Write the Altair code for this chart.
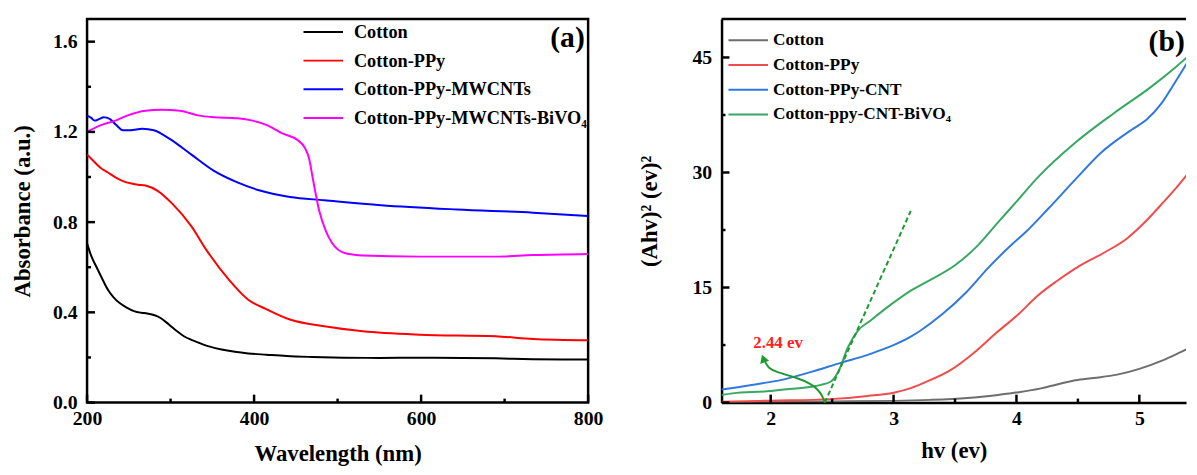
import altair as alt
import pandas as pd

FONT = "Liberation Serif"

# ---------------- Panel (a): UV-vis absorbance ----------------
series_a = ["Cotton", "Cotton-PPy", "Cotton-PPy-MWCNTs", "Cotton-PPy-MWCNTs-BiVO₄"]
colors_a = ["#000000", "#FF0000", "#0000FF", "#FF00FF"]

wl_cotton = [200, 205, 211, 218, 225, 232, 239, 248, 257, 265, 272, 280, 288, 298, 307, 316, 325, 334,
             347, 361, 377, 393, 415, 439, 470, 507, 550, 598, 650, 689, 734, 770, 800]
abs_cotton = [0.706, 0.65, 0.603, 0.55, 0.50, 0.465, 0.441, 0.42, 0.404, 0.398, 0.395, 0.388, 0.375, 0.346,
              0.318, 0.294, 0.278, 0.265, 0.248, 0.235, 0.225, 0.218, 0.212, 0.206, 0.202, 0.199, 0.198,
              0.199, 0.198, 0.196, 0.192, 0.191, 0.191]

wl_ppy = [200, 208, 216, 225, 234, 243, 252, 261, 270, 284, 302, 325, 343, 370, 393, 416, 443, 484, 530,
          598, 689, 734, 800]
abs_ppy = [1.099, 1.07, 1.041, 1.02, 0.998, 0.982, 0.972, 0.966, 0.962, 0.94, 0.882, 0.781, 0.676, 0.544,
           0.456, 0.412, 0.368, 0.338, 0.316, 0.301, 0.294, 0.282, 0.276]

wl_mw = [200, 205, 209, 215, 220, 227, 235, 243, 252, 266, 280, 298, 325, 352, 380, 407, 443, 484, 552,
         643, 734, 800]
abs_mw = [1.272, 1.262, 1.25, 1.258, 1.265, 1.258, 1.23, 1.207, 1.207, 1.214, 1.207, 1.171, 1.099, 1.027,
          0.976, 0.94, 0.911, 0.897, 0.875, 0.856, 0.842, 0.827]

wl_bivo = [200, 216, 234, 248, 270, 289, 311, 334, 352, 380, 398, 416, 434, 452, 461, 466, 470, 478, 486,
           493, 500, 507, 520, 530, 598, 689, 734, 800]
abs_bivo = [1.2, 1.229, 1.25, 1.272, 1.294, 1.298, 1.294, 1.272, 1.265, 1.26, 1.25, 1.229, 1.193, 1.164,
            1.128, 1.08, 1.0, 0.85, 0.76, 0.71, 0.68, 0.665, 0.655, 0.652, 0.647, 0.647, 0.654, 0.659]

a_xticks_major = [200, 400, 600, 800]
a_xticks_minor = [300, 500, 700]
a_yticks_major = [0.0, 0.4, 0.8, 1.2, 1.6]
a_yticks_minor = [0.2, 0.6, 1.0, 1.4]

# ---------------- Panel (b): Tauc plot ----------------
series_b = ["Cotton", "Cotton-PPy", "Cotton-PPy-CNT", "Cotton-ppy-CNT-BiVO₄"]
colors_b = ["#6E6E6E", "#F04C4C", "#2F78E0", "#36A862"]

hv_cotton = [1.6, 2.0, 2.5, 3.0, 3.3, 3.6, 3.85, 4.02, 4.2, 4.33, 4.48, 4.63, 4.82, 5.0, 5.19, 5.34, 5.46, 5.5]
ah_cotton = [0.05, 0.1, 0.15, 0.22, 0.35, 0.6, 1.0, 1.35, 1.85, 2.36, 2.91, 3.21, 3.64, 4.4, 5.5, 6.6, 7.5, 7.8]

hv_ppy = [1.6, 2.0, 2.48, 2.79, 3.0, 3.14, 3.25, 3.47, 3.65, 3.83, 4.02, 4.17, 4.33, 4.51, 4.72, 4.9, 5.05,
          5.2, 5.3, 5.45, 5.5]
ah_ppy = [0.1, 0.25, 0.45, 0.86, 1.29, 1.89, 2.6, 4.29, 6.43, 9.0, 11.57, 13.9, 15.86, 17.8, 19.6, 21.4,
          23.6, 26.2, 28.0, 30.9, 31.8]

hv_cnt = [1.6, 1.69, 2.0, 2.09, 2.33, 2.57, 2.79, 2.89, 3.0, 3.14, 3.22, 3.4, 3.59, 3.77, 3.96, 4.08, 4.26,
          4.48, 4.69, 4.94, 5.06, 5.18, 5.3, 5.4, 5.45, 5.5]
ah_cnt = [1.71, 1.9, 2.7, 2.96, 4.0, 5.18, 6.21, 6.81, 7.5, 8.6, 9.4, 11.57, 14.36, 17.57, 20.57, 22.3,
          25.3, 29.1, 32.6, 35.6, 36.9, 39.0, 42.0, 44.6, 45.9, 47.5]

hv_bivo = [1.6, 1.69, 2.0, 2.09, 2.33, 2.41, 2.49, 2.55, 2.63, 2.71, 2.81, 2.98, 3.14, 3.3, 3.5, 3.68, 3.85,
           4.0, 4.17, 4.48, 4.79, 5.09, 5.3, 5.45, 5.5]
ah_bivo = [0.99, 1.2, 1.5, 1.67, 2.06, 2.31, 2.74, 4.03, 7.24, 9.38, 10.67, 12.8, 14.6, 16.0, 17.9, 20.4,
           23.5, 26.2, 29.3, 33.9, 37.7, 41.1, 43.8, 45.9, 46.6]

# band-gap construction (tangent and arrow)
hv_tangent = [2.44, 3.14]
ah_tangent = [0.0, 25.0]
hv_arrow = [2.44, 2.42, 2.38, 2.30, 2.20, 2.09, 1.99, 1.955]
ah_arrow = [0.0, 0.8, 1.7, 2.6, 3.25, 3.8, 4.5, 5.3]
hv_arrow_tip = [1.94]
ah_arrow_tip = [5.74]
gap_label = ["2.44 ev"]
gap_label_x = [2.06]
gap_label_y = [7.7]

b_xticks_major = [2, 3, 4, 5]
b_xticks_minor = [2.5, 3.5, 4.5]
b_yticks_major = [0, 15, 30, 45]
b_yticks_minor = [7.5, 22.5, 37.5]

panel_labels = ["(a)", "(b)"]
panel_label_x = [796, 5.37]
panel_label_y = [1.617, 47.0]

W_A, W_B, H = 507, 470, 388
MAJOR, MINOR = 8, 4
INK = "black"


def series_frame(names, xs, ys):
    rows = []
    for k, (n, xv, yv) in enumerate(zip(names, xs, ys)):
        for i, (a, b) in enumerate(zip(xv, yv)):
            rows.append({"x": a, "y": b, "s": n, "k": k, "i": i})
    return pd.DataFrame(rows)


def make_panel(df, names, colors, xdom, ydom, xtitle, ytitle, yfmt,
               xmaj, xmin_, ymaj, ymin_, width, legend_x, legend_y, label_size, row_h, label_off,
               title_pad_y, title_pad_x, extra_layers_fn, domain_lines):
    sx = alt.Scale(domain=xdom, nice=False, zero=False)
    sy = alt.Scale(domain=ydom, nice=False, zero=False)
    ax = alt.Axis(values=xmaj, title=xtitle, labelPadding=6, titlePadding=title_pad_x, format="d",
                  labelFlush=False, labelOverlap=False, domain=domain_lines, domainColor=INK,
                  domainWidth=2.5)
    ay = alt.Axis(values=ymaj, title=ytitle, labelPadding=10, titlePadding=title_pad_y, format=yfmt,
                  labelFlush=False, labelOverlap=False, domain=domain_lines, domainColor=INK,
                  domainWidth=2.5)

    def X(f="x"):
        return alt.X(f"{f}:Q", scale=sx, axis=ax)

    def Y(f="y"):
        return alt.Y(f"{f}:Q", scale=sy, axis=ay)

    lines = alt.Chart(df).mark_line(strokeWidth=2, clip=True, interpolate="monotone").encode(
        x=X(), y=Y(),
        color=alt.Color("s:N", scale=alt.Scale(domain=names, range=colors),
                        legend=alt.Legend(orient="none", legendX=legend_x, legendY=legend_y, title=None,
                                          symbolType="stroke", symbolSize=1600, symbolStrokeWidth=2,
                                          labelFont=FONT, labelFontWeight="bold", labelFontSize=label_size,
                                          labelColor=INK, rowPadding=0, clipHeight=row_h,
                                          labelOffset=label_off, labelLimit=500, padding=0)),
        detail="k:N",
        order="i:Q",
    )

    def xticks(vals, ln):
        return alt.Chart(pd.DataFrame({"x": vals})).mark_rule(color=INK, strokeWidth=2.5).encode(
            x=X(), y=alt.value(H), y2=alt.value(H - ln))

    def yticks(vals, ln):
        return alt.Chart(pd.DataFrame({"y": vals})).mark_rule(color=INK, strokeWidth=2.5).encode(
            y=Y(), x=alt.value(0), x2=alt.value(ln))

    layers = [lines, xticks(xmaj, MAJOR), xticks(xmin_, MINOR), yticks(ymaj, MAJOR), yticks(ymin_, MINOR)]
    layers += extra_layers_fn(X, Y)
    return alt.layer(*layers).properties(width=width, height=H)


df_a = series_frame(series_a, [wl_cotton, wl_ppy, wl_mw, wl_bivo], [abs_cotton, abs_ppy, abs_mw, abs_bivo])
df_b = series_frame(series_b, [hv_cotton, hv_ppy, hv_cnt, hv_bivo], [ah_cotton, ah_ppy, ah_cnt, ah_bivo])


def extras_a(X, Y):
    lab = pd.DataFrame({"x": [panel_label_x[0]], "y": [panel_label_y[0]], "t": [panel_labels[0]]})
    return [alt.Chart(lab).mark_text(font=FONT, fontWeight="bold", fontSize=30, align="right",
                                     baseline="middle", color=INK).encode(x=X(), y=Y(), text="t:N")]


def extras_b(X, Y):
    tan = pd.DataFrame({"x": hv_tangent, "y": ah_tangent})
    arr = pd.DataFrame({"x": hv_arrow, "y": ah_arrow, "i": list(range(len(hv_arrow)))})
    tip = pd.DataFrame({"x": hv_arrow_tip, "y": ah_arrow_tip})
    gl = pd.DataFrame({"x": gap_label_x, "y": gap_label_y, "t": gap_label})
    lab = pd.DataFrame({"x": [panel_label_x[1]], "y": [panel_label_y[1]], "t": [panel_labels[1]]})
    top = alt.Chart(pd.DataFrame({"x": [xdom_b[0]]})).mark_rule(color=INK, strokeWidth=2.5).encode(
        x=alt.value(0), x2=alt.value(W_B), y=alt.value(0))
    return [
        top,
        alt.Chart(tan).mark_line(color="#1E9A2E", strokeWidth=2, strokeDash=[5, 3]).encode(x=X(), y=Y()),
        alt.Chart(arr).mark_line(color="#1E9A2E", strokeWidth=2, interpolate="monotone").encode(
            x=X(), y=Y(), order="i:Q"),
        alt.Chart(tip).mark_point(shape="triangle-up", filled=True, size=90, angle=340, color="#1E9A2E",
                                  opacity=1).encode(x=X(), y=Y()),
        alt.Chart(gl).mark_text(font=FONT, fontWeight="bold", fontSize=17, color="#FF2020",
                                baseline="middle").encode(x=X(), y=Y(), text="t:N"),
        alt.Chart(lab).mark_text(font=FONT, fontWeight="bold", fontSize=30, align="right",
                                 baseline="middle", color=INK).encode(x=X(), y=Y(), text="t:N"),
    ]


xdom_b = [1.6, 5.38]

pa = make_panel(df_a, series_a, colors_a, [200, 800], [0, 1.7],
                "Wavelength (nm)", "Absorbance (a.u.)", ".1f",
                a_xticks_major, a_xticks_minor, a_yticks_major, a_yticks_minor, W_A,
                218, -1.5, 18.5, 29, 10, 18, 15, extras_a, False)

pb = make_panel(df_b, series_b, colors_b, xdom_b, [0, 50],
                "hv (ev)", "(Ahv)² (ev)²", "d",
                b_xticks_major, b_xticks_minor, b_yticks_major, b_yticks_minor, W_B,
                6, 9.25, 17.5, 24.5, 4, 31, 12, extras_b, True).properties(
                    view=alt.ViewBackground(stroke="transparent"))

chart = (
    alt.hconcat(pa, pb, spacing=32)
    .resolve_scale(color="independent")
    .resolve_legend(color="independent")
    .properties(padding={"left": 2, "top": 5.5, "right": 0, "bottom": 0})
    .configure_view(stroke=INK, strokeWidth=2.5)
    .configure_axis(grid=False, ticks=False, tickSize=0,
                    labelFont=FONT, labelFontWeight="bold", labelFontSize=20, labelColor=INK,
                    titleFont=FONT, titleFontWeight="bold", titleFontSize=23, titleColor=INK)
)

chart.save("out.html", embed_options={"renderer": "svg", "actions": False})
